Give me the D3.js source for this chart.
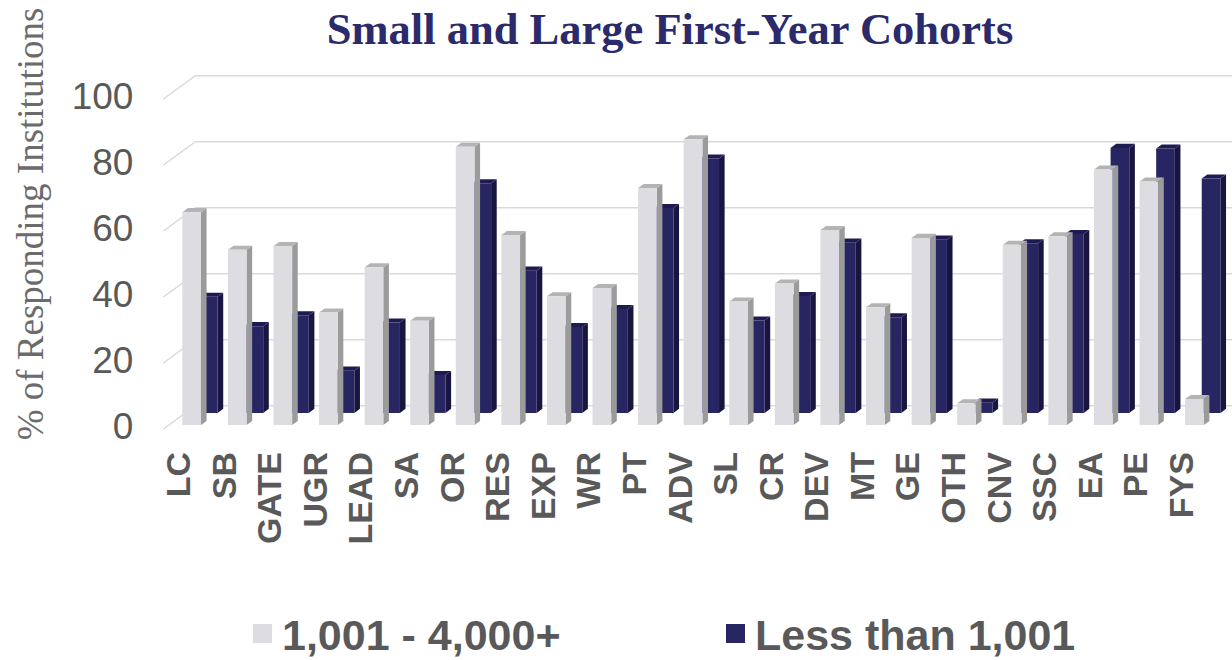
<!DOCTYPE html>
<html>
<head>
<meta charset="utf-8">
<script src="https://cdn.jsdelivr.net/npm/d3@7"></script>
<style>
  body { margin: 0; background: #fff; }
  .grid { stroke: #d9d9d9; stroke-width: 1.5; fill: none; }
  .tick text { font-family: 'Liberation Sans', Arial, sans-serif; fill: #595959; }
</style>
</head>
<body>
<div id="chart"></div>
<script>
const width = 1232
const height = 660

const categories = ['LC', 'SB', 'GATE', 'UGR', 'LEAD', 'SA', 'OR', 'RES', 'EXP', 'WR', 'PT', 'ADV',
  'SL', 'CR', 'DEV', 'MT', 'GE', 'OTH', 'CNV', 'SSC', 'EA', 'PE', 'FYS']
const large = [64.5, 53.1, 54.2, 34.1, 47.8, 31.6, 84.3, 57.6, 39.0, 41.5, 71.8, 86.6,
  37.4, 42.9, 59.1, 35.7, 56.7, 6.6, 54.6, 57.2, 77.4, 73.8, 7.9]
const small = [35.2, 26.3, 29.6, 12.8, 27.4, 11.5, 69.6, 43.1, 26.0, 31.5, 62.1, 77.1,
  28.0, 35.4, 51.6, 29.0, 52.5, 3.1, 51.4, 54.2, 80.3, 80.1, 71.0]
const seriesNames = ['1,001 - 4,000+', 'Less than 1,001']
const yTicks = [0, 20, 40, 60, 80, 100]

const svg = d3.select('#chart')
  .append('svg')
  .attr('width', width)
  .attr('height', height)

// oblique 3d: one unit of depth moves right and up
const depthX = 32
const depthY = -23.3
const x = d3.scaleBand()
  .domain(categories)
  .range([163.4, 1211.8])
  .paddingInner(0.59)
  .paddingOuter(0.295)
const y = d3.scaleLinear().domain([0, 100]).range([429, 99])
const proj = (px, v, d) => [px + depthX * d, y(v) + depthY * d]

// walls and gridlines
const grid = svg.append('g')
yTicks.forEach(t => {
  const a = proj(x.range()[0], t, 0)
  const b = proj(x.range()[0], t, 1)
  grid.append('path')
    .attr('class', 'grid')
    .attr('d', `M${a}L${b}L${width},${b[1]}`)
})

// y axis labels
const yAxis = svg.append('g')
  .attr('transform', `translate(${x.range()[0] - 30},-2)`)
  .call(d3.axisLeft(y).tickValues(yTicks).tickSize(0).tickPadding(0))
yAxis.select('.domain').remove()
yAxis.selectAll('text').style('font-size', '37px')

const drawBar = (g, cat, v, d0, t, colors) => {
  const x0 = x(cat)
  const x1 = x0 + x.bandwidth()
  const bar = g.append('g')
  const pts = arr => arr.map(p => p.join(',')).join(' ')
  bar.append('polygon')
    .attr('points', pts([proj(x1, 0, d0), proj(x1, 0, d0 + t), proj(x1, v, d0 + t), proj(x1, v, d0)]))
    .attr('fill', colors[1])
  bar.append('polygon')
    .attr('points', pts([proj(x0, v, d0), proj(x1, v, d0), proj(x1, v, d0 + t), proj(x0, v, d0 + t)]))
    .attr('fill', colors[2])
  bar.append('polygon')
    .attr('points', pts([proj(x0, 0, d0), proj(x1, 0, d0), proj(x1, v, d0), proj(x0, v, d0)]))
    .attr('fill', colors[0])
}

const darkColors = ['#272662', '#18153f', '#1f1b52']
const lightColors = ['#dddde1', '#9b9b9b', '#b4b4b4']

// back row first, then front row
const backRow = svg.append('g')
categories.forEach((c, i) => drawBar(backRow, c, small[i], 0.69, 0.175, darkColors))
const frontRow = svg.append('g')
categories.forEach((c, i) => drawBar(frontRow, c, large[i], 0.17, 0.175, lightColors))

// category labels
svg.append('g')
  .selectAll('text')
  .data(categories)
  .enter()
    .append('text')
    .attr('transform', d => `translate(${x(d) + 13.3},452) rotate(-90)`)
    .attr('text-anchor', 'end')
    .style('font-family', "'Liberation Sans', Arial, sans-serif")
    .style('font-weight', 'bold')
    .style('font-size', '34px')
    .style('fill', '#595959')
    .text(d => d)

// title
svg.append('text')
  .attr('x', 670)
  .attr('y', 44)
  .attr('text-anchor', 'middle')
  .style('font-family', "'Liberation Serif', 'DejaVu Serif', serif")
  .style('font-weight', 'bold')
  .style('font-size', '44.5px')
  .style('fill', '#2b2a6b')
  .text('Small and Large First-Year Cohorts')

// y axis title
svg.append('text')
  .attr('transform', 'translate(43,224) rotate(-90)')
  .attr('text-anchor', 'middle')
  .style('font-family', "'Liberation Serif', 'DejaVu Serif', serif")
  .style('font-size', '37px')
  .style('fill', '#6b6b6b')
  .text('% of Responding Institutions')

// legend
const legend = svg.append('g')
const legendX = [253, 726]
seriesNames.forEach((name, i) => {
  legend.append('rect')
    .attr('x', legendX[i])
    .attr('y', 624)
    .attr('width', 19)
    .attr('height', 19)
    .attr('fill', i === 0 ? lightColors[0] : darkColors[0])
  legend.append('text')
    .attr('x', legendX[i] + 29)
    .attr('y', 650)
    .style('font-family', "'Liberation Sans', Arial, sans-serif")
    .style('font-weight', 'bold')
    .style('font-size', '43px')
    .style('fill', '#595959')
    .text(name)
})
</script>
</body>
</html>
